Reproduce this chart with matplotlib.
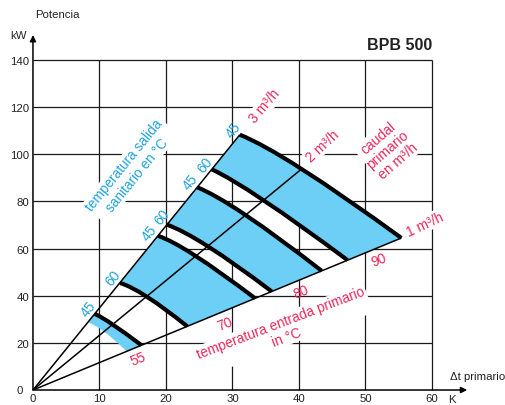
import matplotlib
matplotlib.use("Agg")
import matplotlib.pyplot as plt
from matplotlib.path import Path
from matplotlib.patches import PathPatch
import numpy as np

plt.rcParams['font.family'] = ['Liberation Sans', 'DejaVu Sans']

# ---- data -------------------------------------------------------------
x_ticks = [0, 10, 20, 30, 40, 50, 60]
y_ticks = [0, 20, 40, 60, 80, 100, 120, 140]

# primary inlet temperature of each band (°C)
band_inlet = [55, 70, 80, 90]

# band edges: [ΔT, kW] where each edge meets the 3, 2 and 1 m³/h rays
lower_dt = [[8.25, 10.7, 14.1], [13.1, 17.2, 23.2], [20.1, 26.4, 35.9], [26.9, 34.7, 47.3]]
lower_kw = [[28.7, 24.8, 16.4], [45.4, 39.5, 27.0], [70.2, 60.8, 41.8], [93.6, 80.5, 55.1]]
upper_dt = [[9.3, 12.0, 16.3], [18.8, 24.4, 33.4], [24.7, 32.0, 43.4], [31.1, 40.4, 55.4]]
upper_kw = [[32.3, 27.8, 19.0], [65.4, 57.0, 38.9], [86.0, 74.2, 50.6], [108.3, 93.8, 64.5]]

# secondary outlet temperature of each edge (°C); empty = edge not drawn
lower_outlet = ['', '60', '60', '60']
upper_outlet = ['45', '45', '45', '45']

flow_labels = ['3 m³/h', '2 m³/h', '1 m³/h']

# ---- style ------------------------------------------------------------
FILL = '#6dcff6'
BLUE = '#1fa3dd'
RED = '#e8285a'
TXT = '#222222'
PX2PT = 72 / 100


def curve_pts(dt, kw):
    s = np.array([dt[0], kw[0]])
    m = np.array([dt[1], kw[1]])
    e = np.array([dt[2], kw[2]])
    c = 2 * m - 0.5 * (s + e)   # quadratic control point through the middle ray
    return s, c, e


fig = plt.figure(figsize=(5.05, 4.06), dpi=100)
ax = fig.add_axes([0.0653, 0.0369, 0.7901, 0.8128])
ax.set_xlim(0, 60)
ax.set_ylim(0, 140)
for sp in ax.spines.values():
    sp.set_visible(False)

# grid / frame
ax.vlines(x_ticks[1:], 0, 140, color='#1a1a1a', lw=0.9, zorder=0.5, clip_on=False)
ax.hlines(y_ticks[1:], 0, 60, color='#1a1a1a', lw=0.9, zorder=0.5, clip_on=False)

# axes with arrows
arrow = dict(arrowstyle='-|>', color='black', lw=1.1, mutation_scale=9, shrinkA=0, shrinkB=0)
ax.annotate('', xy=(0, 150.6), xytext=(0, 0), arrowprops=arrow,
            annotation_clip=False, zorder=6)
ax.annotate('', xy=(65.3, 0), xytext=(0, 0), arrowprops=arrow,
            annotation_clip=False, zorder=6)

# ticks
ax.set_xticks(x_ticks)
ax.set_xticklabels([str(v) for v in x_ticks])
ax.set_yticks(y_ticks)
ax.set_yticklabels([str(v) if v else '' for v in y_ticks])
ax.tick_params(length=0, labelsize=8.2, labelcolor=TXT)
ax.tick_params(axis='x', pad=2.2)
ax.tick_params(axis='y', pad=2.6)
ax.annotate('0', xy=(0, 0), xytext=(-7, 0), textcoords='offset points',
            ha='right', va='center', fontsize=8.2, color=TXT, annotation_clip=False)

# bands
edge_labels = []
for i in range(len(band_inlet)):
    ls, lc, le = curve_pts(lower_dt[i], lower_kw[i])
    us, uc, ue = curve_pts(upper_dt[i], upper_kw[i])
    verts = [ls, lc, le, ue, uc, us, ls]
    codes = [Path.MOVETO, Path.CURVE3, Path.CURVE3, Path.LINETO,
             Path.CURVE3, Path.CURVE3, Path.CLOSEPOLY]
    ax.add_patch(PathPatch(Path(verts, codes), facecolor=FILL, edgecolor='none', zorder=2))
    for (s, c, e), lab in (((ls, lc, le), lower_outlet[i]), ((us, uc, ue), upper_outlet[i])):
        if not lab:
            continue
        p = Path([s, c, e], [Path.MOVETO, Path.CURVE3, Path.CURVE3])
        ax.add_patch(PathPatch(p, facecolor='none', edgecolor='black', lw=3.0,
                               capstyle='butt', zorder=4))
        edge_labels.append((s, lab))
    # inlet temperature label under the 1 m³/h ray
    mid = (le + ue) / 2
    ax.annotate(str(band_inlet[i]), xy=mid, xytext=(3.0, -7.6), textcoords='offset points',
                ha='center', va='center', rotation=22, rotation_mode='anchor',
                fontsize=10, color=RED, zorder=1.5)

# outlet temperature labels along the 3 m³/h ray, spread apart where crowded
ang = np.radians(51)
along = np.array([np.cos(ang), np.sin(ang)])
perp = np.array([-np.sin(ang), np.cos(ang)])
disp = [ax.transData.transform(s) for s, _ in edge_labels]
order = np.argsort([d[1] for d in disp])
shift = np.zeros(len(edge_labels))
min_gap = 20.0
for a, b in zip(order[:-1], order[1:]):
    d = np.hypot(*(disp[b] - disp[a]))
    if d < min_gap:
        shift[a] -= (min_gap - d) / 2
        shift[b] += (min_gap - d) / 2
for k, (s, lab) in enumerate(edge_labels):
    off = (perp * 8.6 + along * shift[k]) * PX2PT
    ax.annotate(lab, xy=s, xytext=tuple(off), textcoords='offset points',
                ha='center', va='center', rotation=51, rotation_mode='anchor',
                fontsize=10, color=BLUE, zorder=1.5)

# flow rays: from the origin to the outermost curve
for j in range(3):
    ax.plot([0, upper_dt[-1][j]], [0, upper_kw[-1][j]], color='black', lw=1.1,
            zorder=3, solid_capstyle='butt')

wbox = dict(facecolor='white', edgecolor='none', pad=1.0)

ax.text(14.7, 93.6, 'temperatura salida\nsanitario en °C', rotation=51,
        rotation_mode='anchor', ha='center', va='center', multialignment='center',
        fontsize=9.8, color=BLUE, bbox=wbox, zorder=1.5, linespacing=1.15)
ax.text(34.9, 120.6, flow_labels[0], rotation=50, rotation_mode='anchor',
        ha='center', va='center', fontsize=10, color=RED, bbox=wbox, zorder=1.5)
ax.text(43.5, 103.8, flow_labels[1], rotation=43, rotation_mode='anchor',
        ha='center', va='center', fontsize=10, color=RED, bbox=wbox, zorder=1.5)
ax.text(53.4, 102.3, 'caudal\nprimario\nen m³/h', rotation=41, rotation_mode='anchor',
        ha='center', va='center', multialignment='center', fontsize=10, color=RED,
        bbox=wbox, zorder=1.5, linespacing=1.1)
ax.text(58.9, 70.5, flow_labels[2], rotation=25, rotation_mode='anchor',
        ha='center', va='center', fontsize=10, color=RED, bbox=wbox, zorder=1.5,
        clip_on=False)
ax.text(37.7, 25.5, 'temperatura entrada primario\nin °C', rotation=21,
        rotation_mode='anchor', ha='center', va='center', multialignment='center',
        fontsize=9.9, color=RED, bbox=wbox, zorder=1.5, linespacing=1.1)

# titles and axis names
fig.text(0.0693, 0.963, 'Potencia', ha='left', va='center', fontsize=8.2, color=TXT)
fig.text(0.0535, 0.911, 'kW', ha='right', va='center', fontsize=8.2, color=TXT)
fig.text(0.855, 0.889, 'BPB 500', ha='right', va='center', fontsize=11.5,
         fontweight='bold', color=TXT)
fig.text(0.891, 0.0702, 'Δt primario', ha='left', va='center', fontsize=8.2, color=TXT)
fig.text(0.887, 0.0160, 'K', ha='left', va='center', fontsize=8.2, color=TXT)

fig.savefig('out.png', dpi=100)
